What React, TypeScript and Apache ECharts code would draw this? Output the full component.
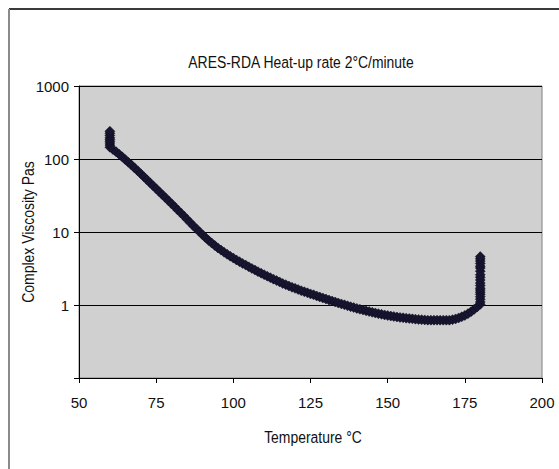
import React, { useEffect, useRef } from "react";
import * as echarts from "echarts";

const titleText = "ARES-RDA Heat-up rate 2°C/minute";
const xAxisName = "Temperature °C";
const yAxisName = "Complex Viscosity Pas";

// Temperature (°C) readings
const temperature: number[] = [
  60, 60, 60, 60, 60, 60, 60, 60, 60,
  61, 62, 63, 64, 65, 66, 67, 68, 69, 70,
  71, 72, 73, 74, 75, 76, 77, 78, 79, 80,
  81, 82, 83, 84, 85, 86, 87, 88, 89, 90,
  91, 92, 93, 94, 95, 96, 97, 98, 99, 100,
  101, 102, 103, 104, 105, 106, 107, 108, 109, 110,
  111, 112, 113, 114, 115, 116, 117, 118, 119, 120,
  121, 122, 123, 124, 125, 126, 127, 128, 129, 130,
  131, 132, 133, 134, 135, 136, 137, 138, 139, 140,
  141, 142, 143, 144, 145, 146, 147, 148, 149, 150,
  151, 152, 153, 154, 155, 156, 157, 158, 159, 160,
  161, 162, 163, 164, 165, 166, 167, 168, 169, 170,
  171, 172, 173, 174, 175, 176, 177, 178, 179,
  180, 180, 180, 180, 180, 180, 180, 180, 180, 180,
  180, 180, 180, 180, 180, 180, 180, 180, 180, 180,
];

// Complex viscosity (Pa·s) readings
const viscosity: number[] = [
  145, 155, 165, 175, 185, 195, 210, 225, 240,
  135, 126, 116, 107, 98, 90, 82.6, 75.5, 68.9, 62.8,
  57.1, 52, 47.3, 43, 39.2, 35.6, 32.4, 29.5, 26.8, 24.3,
  22.1, 20, 18.2, 16.5, 14.9, 13.5, 12.2, 11.1, 10.1, 9.16,
  8.36, 7.66, 7.05, 6.52, 6.05, 5.65, 5.28, 4.95, 4.66, 4.39,
  4.14, 3.92, 3.71, 3.52, 3.33, 3.17, 3.01, 2.86, 2.73, 2.6,
  2.48, 2.37, 2.26, 2.16, 2.07, 1.97, 1.9, 1.82, 1.75, 1.69,
  1.63, 1.57, 1.52, 1.47, 1.42, 1.38, 1.33, 1.29, 1.25, 1.21,
  1.17, 1.135, 1.1, 1.066, 1.035, 1.005, 0.975, 0.948, 0.923, 0.898,
  0.875, 0.853, 0.832, 0.813, 0.794, 0.776, 0.76, 0.745, 0.731, 0.718,
  0.706, 0.695, 0.685, 0.676, 0.668, 0.661, 0.653, 0.646, 0.64, 0.634,
  0.63, 0.625, 0.62, 0.62, 0.62, 0.62, 0.62, 0.62, 0.62, 0.62,
  0.63, 0.645, 0.665, 0.69, 0.72, 0.76, 0.81, 0.87, 0.94,
  1.02, 1.1, 1.2, 1.3, 1.4, 1.5, 1.6, 1.7, 1.85, 2.0,
  2.2, 2.4, 2.6, 2.9, 3.2, 3.4, 3.7, 4.0, 4.3, 4.6,
];

const FONT = "'Liberation Sans', Arial, Helvetica, sans-serif";
const TEXT_COLOR = "#111111";

export default function App() {
  const ref = useRef<HTMLDivElement>(null);
  useEffect(() => {
    if (!ref.current) return;
    const chart = echarts.init(ref.current, undefined, { renderer: "svg" });
    const data = temperature.map((t, i) => [t, viscosity[i]]);
    chart.setOption({
      animation: false,
      backgroundColor: "#ffffff",
      graphic: [
        { type: "line", shape: { x1: 9, y1: 9, x2: 559, y2: 9 }, style: { stroke: "#3a3a3a", lineWidth: 2 } },
        { type: "line", shape: { x1: 9, y1: 9, x2: 9, y2: 469 }, style: { stroke: "#8a8a8a", lineWidth: 2 } },
        {
          type: "text",
          x: 301,
          y: 62,
          scaleX: 0.82,
          style: {
            text: titleText,
            fontFamily: FONT,
            fontSize: 17,
            fill: TEXT_COLOR,
            align: "center",
            verticalAlign: "middle",
          },
        },
        {
          type: "text",
          x: 313,
          y: 437,
          scaleX: 0.82,
          style: {
            text: xAxisName,
            fontFamily: FONT,
            fontSize: 17,
            fill: TEXT_COLOR,
            align: "center",
            verticalAlign: "middle",
          },
        },
        {
          type: "text",
          x: 28,
          y: 232,
          rotation: Math.PI / 2,
          scaleX: 0.82,
          style: {
            text: yAxisName,
            fontFamily: FONT,
            fontSize: 17,
            fill: TEXT_COLOR,
            align: "center",
            verticalAlign: "middle",
          },
        },
      ],
      grid: {
        left: 79,
        right: 17,
        top: 86,
        bottom: 91,
        show: true,
        backgroundColor: "#d0d0d0",
        borderColor: "#808080",
        borderWidth: 1,
      },
      xAxis: {
        type: "value",
        min: 50,
        max: 200,
        interval: 25,
        axisLine: { show: true, onZero: false, lineStyle: { color: "#000", width: 1 } },
        axisTick: { show: true, length: 5, lineStyle: { color: "#000" } },
        axisLabel: { fontFamily: FONT, fontSize: 15, color: TEXT_COLOR, margin: 17 },
        splitLine: { show: false },
      },
      yAxis: {
        type: "log",
        logBase: 10,
        min: 0.1,
        max: 1000,
        axisLine: { show: true, lineStyle: { color: "#000", width: 1 } },
        axisTick: { show: true, length: 5, lineStyle: { color: "#000" } },
        axisLabel: {
          fontFamily: FONT,
          fontSize: 15,
          color: TEXT_COLOR,
          margin: 10,
          formatter: (v: number) => (v < 1 ? "" : String(Math.round(v))),
        },
        splitLine: { show: true, lineStyle: { color: "#000", width: 1 } },
        minorTick: { show: false },
      },
      series: [
        {
          type: "scatter",
          data,
          symbol: "diamond",
          symbolSize: 10,
          itemStyle: { color: "#17152f", borderColor: "#0d0c20", borderWidth: 0.5, opacity: 1 },
        },
      ],
    });
    return () => chart.dispose();
  }, []);
  return (
    <div
      ref={ref}
      style={{ position: "fixed", left: 0, top: 0, width: 559, height: 469 }}
    />
  );
}
